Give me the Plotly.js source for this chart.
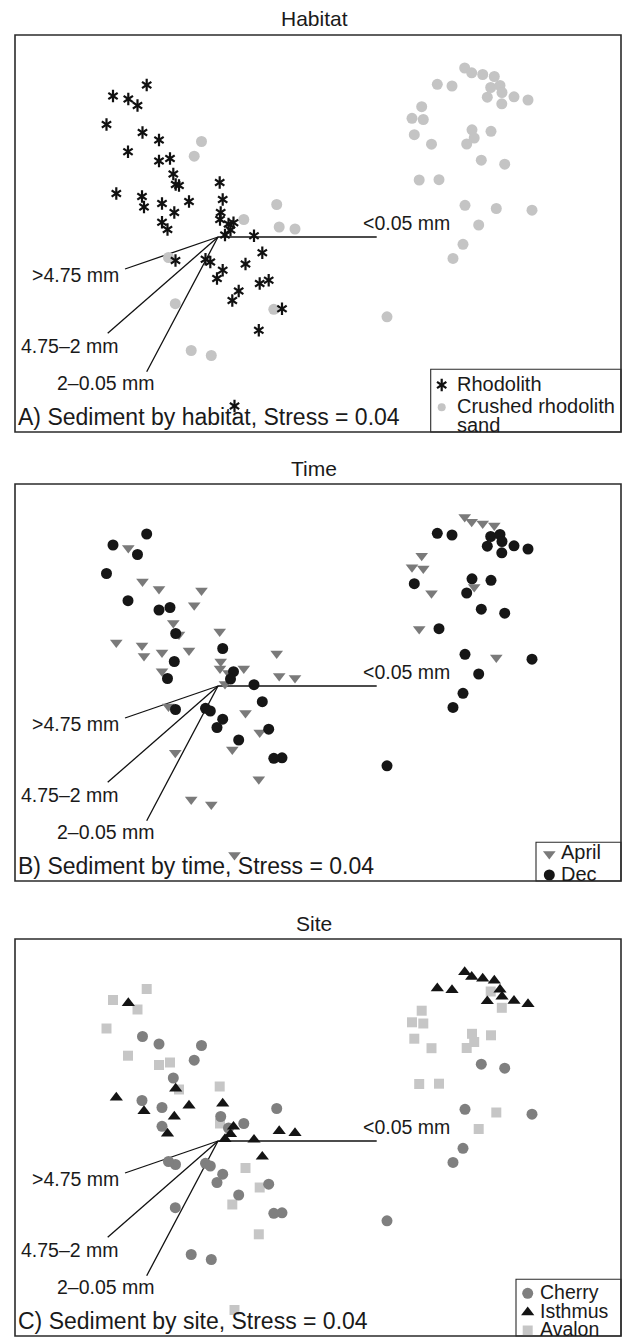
<!DOCTYPE html>
<html><head><meta charset="utf-8">
<script src="https://cdn.plot.ly/plotly-3.0.1.min.js"></script>
<style>html,body{margin:0;padding:0;background:#fff}</style>
</head><body><div id="chart" style="width:624px;height:1339px"></div>
<script>
// ---- DATA: nMDS ordination of sediment grain-size composition (one point per sample) ----
const nmds1 = [
 -0.713,-1.05,-0.897,-0.805,-1.115,-0.755,-0.59,-0.9,-0.59,-0.48,
 -0.447,-0.423,-0.39,0.017,-1.017,-0.76,-0.74,-0.56,-0.29,0.047,
 -0.437,0.027,0.02,-0.56,-0.505,0.155,0.105,0.125,0.07,0.36,
 0.443,-0.425,-0.125,-0.077,0.275,0.047,-0.01,0.417,0.507,0.207,
 0.143,0.64,0.408,0.165,
 -0.165,-0.238,0.587,0.258,0.612,0.77,-0.495,-0.427,-0.268,-0.067,
 0.558,1.69,
 2.467,2.537,2.647,2.763,2.193,2.34,2.727,2.82,2.84,2.693,
 2.96,3.10,2.838,2.037,1.94,2.053,2.54,2.73,1.963,2.562,
 2.135,2.487,2.633,2.867,2.012,2.21,2.47,2.783,3.14,2.607,
 2.45,2.35];
const nmds2 = [
 1.52,1.41,1.38,1.315,1.125,1.045,0.97,0.853,0.76,0.785,
 0.63,0.525,0.515,0.545,0.435,0.405,0.30,0.335,0.355,0.375,
 0.245,0.245,0.175,0.147,0.075,0.143,0.13,0.07,0.02,0.013,
 -0.157,-0.235,-0.223,-0.25,-0.27,-0.332,-0.415,-0.465,-0.432,-0.54,
 -0.635,-0.718,-0.933,-1.69,
 0.955,0.808,0.325,0.175,0.10,0.08,-0.205,-0.667,-1.135,-1.185,
 -0.723,-0.798,
 1.69,1.642,1.625,1.605,1.527,1.51,1.495,1.515,1.445,1.398,
 1.402,1.37,1.332,1.303,1.187,1.175,1.072,1.057,1.023,0.99,
 0.928,0.93,0.768,0.728,0.57,0.573,0.317,0.285,0.268,0.12,
 -0.073,-0.214];
const R='Rhodolith', S='Crushed rhodolith sand';
const habitat = [
 R,R,R,R,R,R,R,R,R,R, R,R,R,R,R,R,R,R,R,R, R,R,R,R,R,R,R,R,R,R,
 R,R,R,R,R,R,R,R,R,R, R,R,R,R,
 S,S,S,S,S,S,S,S,S,S, S,S,
 S,S,S,S,S,S,S,S,S,S, S,S,S,S,S,S,S,S,S,S, S,S,S,S,S,S,S,S,S,S, S,S];
const Ap='April', De='Dec';
const time = [
 De,De,Ap,De,De,Ap,Ap,De,De,De, Ap,De,Ap,Ap,Ap,Ap,Ap,Ap,Ap,De,
 De,Ap,Ap,Ap,De,De,Ap,De,Ap,De, De,De,De,De,Ap,De,De,Ap,De,De,
 Ap,De,Ap,Ap,
 Ap,Ap,Ap,Ap,Ap,Ap,Ap,Ap,Ap,Ap, De,De,
 Ap,Ap,Ap,Ap,De,De,De,De,De,De, De,De,De,Ap,Ap,Ap,De,De,De,Ap,
 Ap,De,De,De,Ap,De,De,Ap,De,De, De,De];
const C='Cherry', I='Isthmus', V='Avalon';
const site = [
 V,V,I,V,V,C,C,V,V,V, C,I,V,V,I,C,I,C,I,I, I,C,V,C,I,I,C,I,I,I,
 I,C,C,C,V,C,C,V,C,C, V,C,V,V,
 C,C,C,C,I,I,C,C,C,C, C,C,
 I,I,I,I,I,I,V,I,I,I, I,I,V,V,V,V,V,V,V,V, V,V,C,C,V,V,C,V,C,V, C,C];
const vectorNames = ['<0.05 mm', '>4.75 mm', '4.75\u20132 mm', '2\u20130.05 mm'];
const vectorX = [1.587, -0.93, -1.103, -0.713];
const vectorY = [0, -0.32, -0.963, -1.347];
const panelTitles = ['Habitat', 'Time', 'Site'];
const panelLabels = ['A) Sediment by habitat, Stress = 0.04',
                     'B) Sediment by time, Stress = 0.04',
                     'C) Sediment by site, Stress = 0.04'];
const habitatLevels = [R, S];
const timeLevels = [Ap, De];
const siteLevels = [C, I, V];

// ---- LAYOUT GEOMETRY (pixels) ----
const W = 624, H = 1339;
const BOX_L = 15, BOX_R = 621;
const PANEL_TOP = [35, 484, 939];
const PANEL_H = 397;
const UNIT = 100;              // px per nMDS unit
const ORIGIN_X = 218, ORIGIN_DY = 202;
const FONT = 'Liberation Sans, Arial, Helvetica, sans-serif';
const INK = '#1a1a1a';

const px = x => x / W, py = y => 1 - y / H;
const sfx = ['', '2', '3'];

const layout = {
  width: W, height: H, margin: {l:0, r:0, t:0, b:0},
  paper_bgcolor: '#fff', plot_bgcolor: 'rgba(0,0,0,0)',
  showlegend: false, shapes: [], annotations: [],
  font: {family: FONT, color: INK}
};
const traces = [];

for (let k = 0; k < 3; k++) {
  const top = PANEL_TOP[k];
  const bot = Math.min(top + PANEL_H, H);
  layout['xaxis' + sfx[k]] = {domain: [px(BOX_L), px(BOX_R)],
    range: [(BOX_L - ORIGIN_X) / UNIT, (BOX_R - ORIGIN_X) / UNIT],
    visible: false, fixedrange: true, anchor: 'y' + sfx[k]};
  layout['yaxis' + sfx[k]] = {domain: [py(bot), py(top)],
    range: [-(bot - top - ORIGIN_DY) / UNIT, ORIGIN_DY / UNIT],
    visible: false, fixedrange: true, anchor: 'x' + sfx[k]};
  // panel frame
  layout.shapes.push({type:'rect', xref:'paper', yref:'paper',
    x0: px(BOX_L), x1: px(BOX_R), y0: py(top + PANEL_H), y1: py(top),
    line: {color:'#2b2b2b', width:1.6}, fillcolor:'rgba(0,0,0,0)'});
  // vectors
  const vx = [], vy = [];
  vectorX.forEach((v, i) => { vx.push(0, v, null); vy.push(0, vectorY[i], null); });
  traces.push({x: vx, y: vy, xaxis:'x' + sfx[k], yaxis:'y' + sfx[k], mode:'lines',
    line:{color:'#111', width:1.3}, hoverinfo:'skip'});
  // titles & panel labels
  layout.annotations.push({text: panelTitles[k], xref:'paper', yref:'paper',
    x: px(314), y: py(top - 16), xanchor:'center', yanchor:'middle',
    showarrow:false, font:{size:21, family:FONT, color:INK}});
  layout.annotations.push({text: panelLabels[k], xref:'paper', yref:'paper',
    x: px(16), y: py(top + 382), xanchor:'left', yanchor:'middle',
    showarrow:false, font:{size:23, family:FONT, color:INK}});
  // vector labels
  const lab = [{dx:-0.155, dy:0.14, a:'left'}, {dx:-0.04, dy:-0.055, a:'right'},
               {dx:0.133, dy:-0.122, a:'right'}, {dx:0.10, dy:-0.111, a:'right'}];
  vectorNames.forEach((n, i) => {
    layout.annotations.push({text: n.replace('<','&lt;').replace('>','&gt;'),
      xref:'x' + sfx[k], yref:'y' + sfx[k],
      x: vectorX[i] + lab[i].dx, y: vectorY[i] + lab[i].dy,
      xanchor: lab[i].a, yanchor:'middle', showarrow:false,
      font:{size:19.5, family:FONT, color:INK}});
  });
}

function pick(group, level) {
  const xs = [], ys = [];
  group.forEach((g, i) => { if (g === level) { xs.push(nmds1[i]); ys.push(nmds2[i]); } });
  return {xs, ys};
}
function pts(k, group, level, marker) {
  const p = pick(group, level);
  traces.push({x: p.xs, y: p.ys, xaxis:'x' + sfx[k], yaxis:'y' + sfx[k],
    mode:'markers', marker: marker, hoverinfo:'skip', name: level});
}

// styles
const ST = {
  'Rhodolith': [{symbol:'y-up', size:7.8, color:'#111', line:{color:'#111', width:2.2}},
                {symbol:'y-down', size:7.8, color:'#111', line:{color:'#111', width:2.2}}],
  'Crushed rhodolith sand': [{symbol:'circle', size:11, color:'#c4c4c4', line:{width:0}}],
  'April': [{symbol:'triangle-down', size:11, color:'#7a7a7a', line:{width:0}}],
  'Dec': [{symbol:'circle', size:11, color:'#161616', line:{width:0}}],
  'Cherry': [{symbol:'circle', size:11, color:'#7f7f7f', line:{width:0}}],
  'Isthmus': [{symbol:'triangle-up', size:11.5, color:'#141414', line:{width:0}}],
  'Avalon': [{symbol:'square', size:10, color:'#c6c6c6', line:{width:0}}]
};
// panel A: sand below, rhodolith above
[S, R].forEach(l => ST[l].forEach(m => pts(0, habitat, l, m)));
// panel B
[Ap, De].forEach(l => ST[l].forEach(m => pts(1, time, l, m)));
// panel C
[V, C, I].forEach(l => ST[l].forEach(m => pts(2, site, l, m)));

// ---- LEGENDS (pixel overlay) ----
layout.xaxis4 = {domain:[0,1], range:[0,W], visible:false, fixedrange:true, anchor:'y4'};
layout.yaxis4 = {domain:[0,1], range:[H,0], visible:false, fixedrange:true, anchor:'x4'};
const legends = [
  {levels: habitatLevels, left: 430.7, top: 369.3, mx: 441.7, tx: 455, rows: [385, 407.3], k: 0, fs: 20},
  {levels: timeLevels, left: 536, top: 842.3, mx: 549.3, tx: 559, rows: [854, 875], k: 1, fs: 20},
  {levels: siteLevels, left: 516, top: 1279.3, mx: 527.7, tx: 537.5, rows: [1293.3, 1312.3, 1330.5], k: 2, fs: 19.5}
];
legends.forEach(L => {
  const bottom = PANEL_TOP[L.k] + PANEL_H;
  layout.shapes.push({type:'rect', xref:'paper', yref:'paper', layer:'below',
    x0: px(L.left), x1: px(BOX_R), y0: py(bottom), y1: py(L.top),
    line:{color:'#2b2b2b', width:1.1}, fillcolor:'#fff'});
  L.levels.forEach((lev, j) => {
    ST[lev].forEach(m => {
      const mm = Object.assign({}, m);
      if (lev === S) mm.size = 8;
      traces.push({x:[L.mx], y:[L.rows[j]], xaxis:'x4', yaxis:'y4', mode:'markers',
        marker: mm, hoverinfo:'skip', cliponaxis:false});
    });
    const lines = lev === S ? ['Crushed rhodolith', 'sand'] : [lev];
    lines.forEach((t, li) => {
      layout.annotations.push({text: t, xref:'paper', yref:'paper',
        x: px(L.tx), y: py(L.rows[j] - 1.5 + li * 19), xanchor:'left', yanchor:'middle',
        showarrow:false, font:{size:L.fs, family:FONT, color:INK}});
    });
  });
});

Plotly.newPlot('chart', traces, layout, {staticPlot:true, displayModeBar:false});
</script></body></html>
